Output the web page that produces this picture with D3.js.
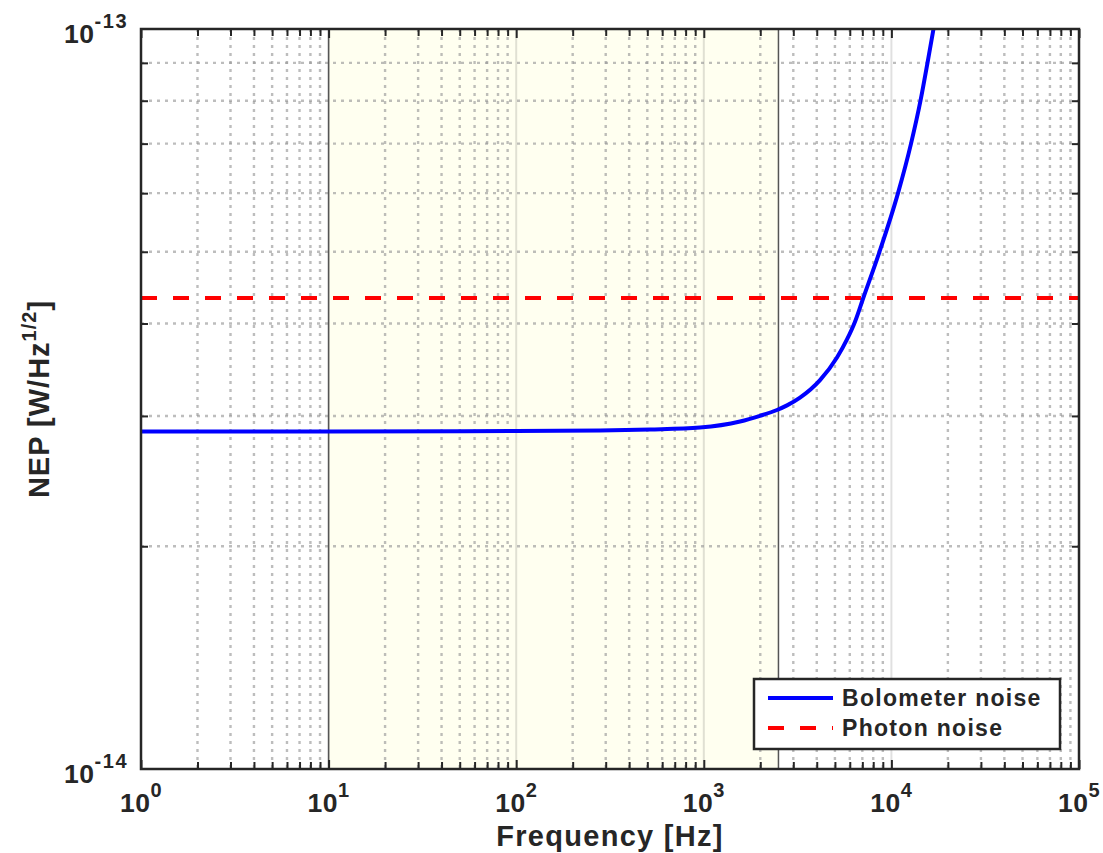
<!DOCTYPE html>
<html>
<head>
<meta charset="utf-8">
<script src="https://cdn.jsdelivr.net/npm/d3@7"></script>
<style>
  body { margin: 0; background: #fff; }
  text { font-family: "Liberation Sans", Arial, sans-serif; font-weight: bold; fill: #262626; }
</style>
</head>
<body>
<svg id="chart" width="1103" height="853"></svg>
<script>
// values
const bolometerFreq = [1, 10, 100, 280, 517, 954, 1560, 1993, 2456, 2777, 3257, 4164, 5129, 5798, 6397, 7057, 8643, 10844, 12724, 14293, 15575, 16765];
const bolometerNEP = [2.858e-14, 2.858e-14, 2.862e-14, 2.866e-14, 2.875e-14, 2.893e-14, 2.948e-14, 3.001e-14, 3.056e-14, 3.100e-14, 3.176e-14, 3.354e-14, 3.598e-14, 3.806e-14, 4.022e-14, 4.32e-14, 5.0e-14, 6.0e-14, 7.0e-14, 8.0e-14, 9.0e-14, 1.0e-13];
const photonFreq = [1, 1e5];
const photonNEP = [4.33e-14, 4.33e-14];
const bandEdges = [10, 2500];
const xExponents = [0, 1, 2, 3, 4, 5];
const yExponents = [-14, -13];
const legendLabels = ["Bolometer noise", "Photon noise"];

const plotLeft = 141, plotRight = 1079, plotTop = 29, plotBottom = 769;
const ink = "#262626";

const svg = d3.select("#chart");

const x = d3.scaleLog().domain([1, 1e5]).range([plotLeft, plotRight]);
const y = d3.scaleLog().domain([1e-14, 1e-13]).range([plotBottom, plotTop]);

// tick positions
const xMajor = xExponents.map(e => Math.pow(10, e));
const xMinor = [];
xExponents.slice(0, -1).forEach(e => {
    for (let k = 2; k <= 9; k++) xMinor.push(k * Math.pow(10, e));
});
const yMinor = d3.range(2, 10).map(k => k * 1e-14);

// plot background
svg.append("rect")
    .attr("x", plotLeft).attr("y", plotTop)
    .attr("width", plotRight - plotLeft).attr("height", plotBottom - plotTop)
    .attr("fill", "#fff");

// shaded band
svg.append("rect")
    .attr("x", x(bandEdges[0])).attr("y", plotTop)
    .attr("width", x(bandEdges[1]) - x(bandEdges[0]))
    .attr("height", plotBottom - plotTop)
    .attr("fill", "#fffff0");

// major grid (vertical only; horizontal majors sit on the box)
svg.append("g").selectAll("line")
    .data(xMajor.slice(1, -1))
    .join("line")
    .attr("x1", d => x(d)).attr("x2", d => x(d))
    .attr("y1", plotTop).attr("y2", plotBottom)
    .attr("stroke", ink).attr("stroke-opacity", 0.14)
    .attr("stroke-width", 2);

// minor grid, dotted
const gridMinor = svg.append("g")
    .attr("stroke", "#9a9a9a").attr("stroke-opacity", 0.65)
    .attr("stroke-width", 2.4).attr("stroke-dasharray", "3,5");
gridMinor.selectAll("line.v")
    .data(xMinor)
    .join("line").attr("class", "v")
    .attr("x1", d => x(d)).attr("x2", d => x(d))
    .attr("y1", plotTop).attr("y2", plotBottom);
gridMinor.selectAll("line.h")
    .data(yMinor)
    .join("line").attr("class", "h")
    .attr("x1", plotLeft).attr("x2", plotRight)
    .attr("y1", d => y(d)).attr("y2", d => y(d));

// band edges
svg.append("g").selectAll("line")
    .data(bandEdges)
    .join("line")
    .attr("x1", d => x(d)).attr("x2", d => x(d))
    .attr("y1", plotTop).attr("y2", plotBottom)
    .attr("stroke", "#555").attr("stroke-width", 1.5);

// clip for data lines
svg.append("clipPath").attr("id", "plotClip")
    .append("rect")
    .attr("x", plotLeft).attr("y", plotTop)
    .attr("width", plotRight - plotLeft).attr("height", plotBottom - plotTop);

const line = d3.line()
    .x(d => x(d[0]))
    .y(d => y(d[1]))
    .curve(d3.curveMonotoneX);

svg.append("path")
    .datum(photonFreq.map((f, i) => [f, photonNEP[i]]))
    .attr("clip-path", "url(#plotClip)")
    .attr("d", line)
    .attr("fill", "none")
    .attr("stroke", "#ff0000")
    .attr("stroke-width", 4)
    .attr("stroke-dasharray", "16,16");

svg.append("path")
    .datum(bolometerFreq.map((f, i) => [f, bolometerNEP[i]]))
    .attr("clip-path", "url(#plotClip)")
    .attr("d", line)
    .attr("fill", "none")
    .attr("stroke", "#0000ff")
    .attr("stroke-width", 4);

// axes: inward ticks on all four sides
const drawAxis = (axisFn, scale, values, size, transform) => {
    svg.append("g")
        .attr("transform", transform)
        .call(axisFn(scale).tickValues(values).tickSize(size).tickFormat(""))
        .call(g => g.select(".domain").remove())
        .call(g => g.selectAll(".tick line").attr("stroke", ink).attr("stroke-width", 2));
};
drawAxis(d3.axisBottom, x, xMinor, -7, `translate(0,${plotBottom})`);
drawAxis(d3.axisBottom, x, xMajor, -9, `translate(0,${plotBottom})`);
drawAxis(d3.axisTop, x, xMinor, -7, `translate(0,${plotTop})`);
drawAxis(d3.axisTop, x, xMajor, -9, `translate(0,${plotTop})`);
drawAxis(d3.axisLeft, y, yMinor, -7, `translate(${plotLeft},0)`);
drawAxis(d3.axisRight, y, yMinor, -7, `translate(${plotRight},0)`);

svg.append("rect")
    .attr("x", plotLeft).attr("y", plotTop)
    .attr("width", plotRight - plotLeft).attr("height", plotBottom - plotTop)
    .attr("fill", "none")
    .attr("stroke", ink).attr("stroke-width", 2.5);

// tick labels with superscripts
const xLabels = svg.append("g").selectAll("text")
    .data(xExponents)
    .join("text")
    .attr("x", d => x(Math.pow(10, d)))
    .attr("y", plotBottom + 43)
    .attr("text-anchor", "middle")
    .attr("font-size", 26.5)
    .attr("letter-spacing", 0.5);
xLabels.append("tspan").text("10");
xLabels.append("tspan").attr("dy", -15).attr("font-size", 20).text(d => d);

const yLabels = svg.append("g").selectAll("text")
    .data(yExponents)
    .join("text")
    .attr("x", plotLeft - 13)
    .attr("y", d => y(Math.pow(10, d)) + 14)
    .attr("text-anchor", "end")
    .attr("font-size", 26.5)
    .attr("letter-spacing", 0.5);
yLabels.append("tspan").text("10");
yLabels.append("tspan").attr("dy", -15).attr("font-size", 20).attr("letter-spacing", 1.5).text(d => d);

// axis titles
svg.append("text")
    .attr("x", (plotLeft + plotRight) / 2)
    .attr("y", 846)
    .attr("text-anchor", "middle")
    .attr("font-size", 29)
    .attr("letter-spacing", 1.3)
    .text("Frequency [Hz]");

const yTitle = svg.append("text")
    .attr("transform", `translate(49,${(plotTop + plotBottom) / 2}) rotate(-90)`)
    .attr("text-anchor", "middle")
    .attr("font-size", 29)
    .attr("letter-spacing", 1);
yTitle.append("tspan").text("NEP [W/Hz");
yTitle.append("tspan").attr("dy", -13).attr("font-size", 20).text("1/2");
yTitle.append("tspan").attr("dy", 13).text("]");

// legend
const legend = svg.append("g");
legend.append("rect")
    .attr("x", 754).attr("y", 679)
    .attr("width", 306).attr("height", 70)
    .attr("fill", "#fff")
    .attr("stroke", ink).attr("stroke-width", 2.5);

const legendStyles = [
    { color: "#0000ff", dash: null },
    { color: "#ff0000", dash: "16,16" }
];
legendLabels.forEach((label, i) => {
    const cy = 698 + i * 30;
    legend.append("line")
        .attr("x1", 768).attr("x2", 833)
        .attr("y1", cy).attr("y2", cy)
        .attr("stroke", legendStyles[i].color)
        .attr("stroke-width", 4)
        .attr("stroke-dasharray", legendStyles[i].dash);
    legend.append("text")
        .attr("x", 842).attr("y", cy + 8)
        .attr("font-size", 23)
        .attr("letter-spacing", 1.3)
        .attr("fill", "#000")
        .text(label);
});
</script>
</body>
</html>
